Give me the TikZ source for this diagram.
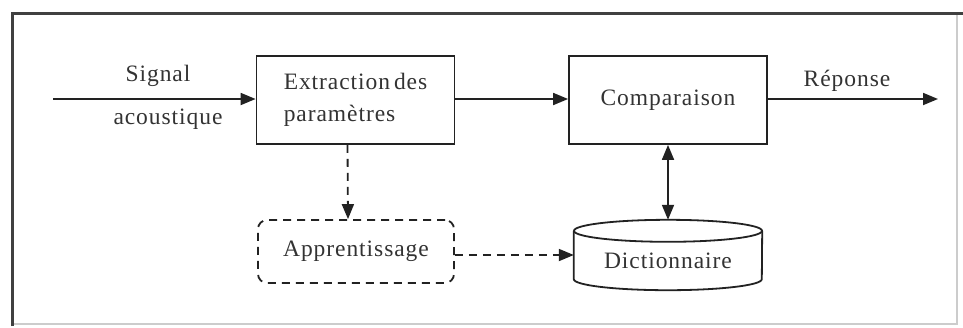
\documentclass[tikz,border=0pt]{standalone}
\usepackage{fontspec}
\setmainfont{Liberation Serif}[LetterSpace=4]
\usetikzlibrary{arrows.meta,calc}
\definecolor{ink}{HTML}{222222}
\definecolor{txt}{HTML}{333333}
\tikzset{
  lbl/.style={font=\fontsize{23.5}{32}\selectfont, text=txt, inner sep=0},
  procbox/.style={draw=ink, line width=1.8, minimum width=198, minimum height=88, inner sep=0,
                  font=\fontsize{23.5}{32}\selectfont, text=txt},
  learnbox/.style={procbox, dashed, dash pattern=on 8 off 6, rounded corners=9,
                   minimum width=196, minimum height=63},
  flow/.style={draw=ink, line width=1.8, -{Triangle[length=15,width=12]}},
  dashflow/.style={flow, dash pattern=on 8 off 6},
  twoway/.style={draw=ink, line width=1.8, {Triangle[length=15,width=12]}-{Triangle[length=15,width=12]}}
}
\begin{document}
\begin{tikzpicture}[x=1pt,y=-1pt]
\useasboundingbox (0,0) rectangle (963,327);
\fill[white] (0,0) rectangle (963,327);
% frame
\draw[color=black!20, line width=1.5] (12,324) -- (957,324) -- (957,13);
\draw[color=black!75, line width=3] (12,326) -- (12,13) -- (963,13);

% blocks
\node[procbox, align=left] (extr) at (355.5,100) {Extraction\,des\\paramètres};
\node[procbox] (comp) at (668,100) {Comparaison};
\node[learnbox] (appr) at (356,251.5) {Apprentissage};
\node[minimum width=188, minimum height=70, inner sep=0] (dict) at (668,255) {};
\node[lbl] (dicttxt) at (668,261) {Dictionnaire};

% cylinder outline of the dictionary
\draw[ink, line width=1.8] ($(dict.north)+(0,11)$) ellipse [x radius=94, y radius=11];
\draw[ink, line width=1.8] ($(dict.north west)+(0,11)$) -- ($(dict.south west)+(0,-11)$)
  arc[start angle=180, end angle=0, x radius=94, y radius=11] -- ($(dict.north east)+(0,11)$);

% input / output
\coordinate (in) at (53,99);
\coordinate (out) at (938,99);
\node[lbl] (sig) at (158,76) {Signal};
\node[lbl] (aco) at (168,119) {acoustique};
\node[lbl] (rep) at (847,81) {Réponse};

% connectors
\draw[flow] (in) -- (extr.west |- in);
\draw[flow] (extr.east |- in) -- (comp.west |- in);
\draw[flow] (comp.east |- out) -- (out);
\draw[twoway] (comp.south) -- (dict.north);
\draw[dashflow] ([xshift=-8]extr.south) -- ([xshift=-8]appr.north);
\draw[dashflow] (appr.east |- dict.west) -- (dict.west);
\end{tikzpicture}
\end{document}
